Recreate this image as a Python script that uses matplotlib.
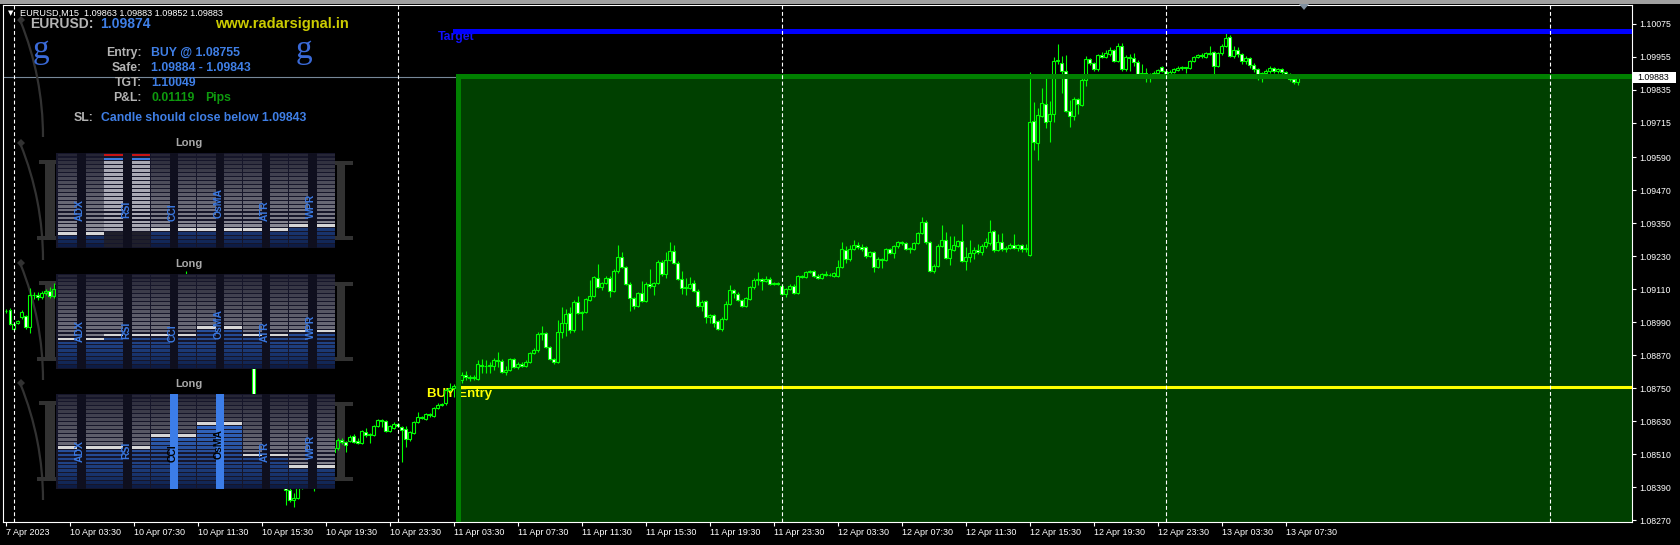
import numpy as np
import matplotlib
matplotlib.use("Agg")
import matplotlib.pyplot as plt
from matplotlib.patches import Rectangle, Polygon, Arc
from matplotlib.transforms import Affine2D

plt.rcParams["font.family"] = ["Liberation Sans", "DejaVu Sans"]

W, H = 1680, 545

# M15 bars, bar 0 = 10 Apr 00:00; prices in points (1e-5)
first_bar = -2
opens = np.array([
    109031, 109035, 108966, 108988, 109010, 109013, 108973, 109090, 109088, 109082,
    109095, 109105, 109085, 109111, 109120, 109112, 109125, 109118, 109130, 109124,
    109136, 109131, 109140, 109134, 109125, 109137, 109145, 109139, 109148, 109142,
    109150, 109144, 109136, 109146, 109152, 109145, 109154, 109149, 109142, 109151,
    109155, 109147, 109153, 109150, 109156, 109152, 109160, 109150, 109136, 109142,
    109122, 109110, 109118, 109095, 109084, 109092, 109066, 109048, 109055, 109018,
    108990, 108962, 108905, 108720, 108700, 108680, 108650, 108620, 108560, 108500,
    108420, 108381, 108344, 108352, 108390, 108420, 108445, 108410, 108400, 108440,
    108470, 108500, 108520, 108533, 108562, 108555, 108560, 108577, 108558, 108551,
    108592, 108582, 108580, 108613, 108635, 108631, 108596, 108607, 108620, 108610,
    108603, 108566, 108588, 108628, 108646, 108639, 108655, 108651, 108679, 108690,
    108697, 108744, 108750, 108760, 108780, 108800, 108790, 108788, 108784, 108836,
    108830, 108833, 108831, 108853, 108850, 108811, 108817, 108857, 108828, 108838,
    108830, 108846, 108879, 108890, 108948, 108951, 108900, 108857, 108846, 108955,
    108988, 109024, 108962, 109064, 109024, 109028, 109073, 109087, 109152, 109119,
    109133, 109152, 109105, 109175, 109229, 109191, 109130, 109079, 109051, 109097,
    109069, 109130, 109121, 109133, 109210, 109166, 109217, 109250, 109207, 109149,
    109115, 109116, 109133, 109105, 109051, 109066, 109011, 109015, 108995, 108966,
    109002, 109057, 109108, 109093, 109071, 109051, 109075, 109118, 109144, 109146,
    109142, 109149, 109130, 109133, 109123, 109093, 109111, 109123, 109097, 109159,
    109155, 109173, 109175, 109160, 109151, 109166, 109164, 109160, 109160, 109191,
    109253, 109220, 109257, 109271, 109263, 109263, 109231, 109246, 109192, 109220,
    109218, 109257, 109243, 109266, 109281, 109279, 109257, 109257, 109279, 109315,
    109356, 109281, 109178, 109196, 109269, 109290, 109225, 109253, 109269, 109286,
    109214, 109227, 109241, 109253, 109245, 109268, 109278, 109323, 109253, 109281,
    109255, 109262, 109271, 109262, 109270, 109258, 109235, 109723, 109641, 109741,
    109783, 109723, 109747, 109940, 109932, 109905, 109760, 109742, 109801, 109780,
    109871, 109947, 109932, 109910, 109962, 109956, 109966, 109980, 109940, 109995,
    109910, 109956, 109950, 109938, 109892, 109896, 109893, 109894, 109895, 109918,
    109905, 109893, 109901, 109909, 109916, 109917, 109914, 109940, 109954, 109962,
    109956, 109968, 109972, 109923, 109968, 109995, 110029, 109959, 109980, 109965,
    109940, 109950, 109925, 109910, 109880, 109895, 109905, 109915, 109905, 109910,
    109900, 109892, 109875, 109863]) / 1e5
highs = np.array([
    109040, 109042, 108986, 108999, 109035, 109017, 109115, 109101, 109101, 109104,
    109112, 109118, 109133, 109125, 109126, 109130, 109132, 109136, 109135, 109140,
    109142, 109146, 109145, 109138, 109140, 109150, 109150, 109152, 109153, 109155,
    109154, 109148, 109150, 109156, 109156, 109158, 109158, 109157, 109155, 109158,
    109159, 109157, 109158, 109159, 109160, 109178, 109164, 109155, 109148, 109146,
    109130, 109125, 109122, 109104, 109098, 109096, 109072, 109060, 109058, 109026,
    109000, 108970, 108910, 108724, 108710, 108688, 108662, 108630, 108572, 108512,
    108428, 108386, 108370, 108395, 108428, 108452, 108450, 108418, 108446, 108478,
    108508, 108530, 108548, 108570, 108570, 108560, 108580, 108583, 108570, 108600,
    108605, 108587, 108618, 108640, 108637, 108635, 108618, 108626, 108624, 108614,
    108613, 108596, 108632, 108663, 108650, 108662, 108660, 108684, 108695, 108698,
    108750, 108768, 108765, 108790, 108808, 108812, 108800, 108800, 108853, 108857,
    108853, 108847, 108862, 108883, 108856, 108831, 108862, 108862, 108845, 108844,
    108852, 108884, 108896, 108954, 108977, 108956, 108904, 108862, 108999, 109047,
    109039, 109047, 109070, 109086, 109033, 109080, 109144, 109160, 109202, 109138,
    109158, 109158, 109184, 109271, 109245, 109196, 109135, 109084, 109102, 109142,
    109135, 109183, 109138, 109216, 109215, 109246, 109281, 109271, 109212, 109177,
    109151, 109155, 109145, 109110, 109070, 109071, 109020, 109020, 109000, 109008,
    109068, 109126, 109113, 109102, 109076, 109084, 109124, 109150, 109174, 109150,
    109159, 109154, 109138, 109136, 109128, 109116, 109128, 109128, 109164, 109162,
    109178, 109182, 109180, 109165, 109170, 109177, 109168, 109174, 109217, 109281,
    109268, 109271, 109290, 109282, 109275, 109268, 109251, 109251, 109226, 109225,
    109262, 109262, 109273, 109286, 109286, 109284, 109264, 109284, 109320, 109374,
    109362, 109286, 109202, 109274, 109344, 109319, 109304, 109304, 109291, 109347,
    109264, 109290, 109264, 109275, 109275, 109296, 109362, 109326, 109311, 109314,
    109268, 109278, 109311, 109276, 109274, 109275, 109902, 109792, 109768, 109841,
    109878, 109795, 109956, 110002, 109960, 109962, 109799, 109811, 109806, 109878,
    109959, 109952, 109938, 109967, 109974, 109980, 109990, 109985, 110006, 110005,
    109962, 109966, 109968, 109943, 109929, 109914, 109897, 109905, 109912, 109923,
    109910, 109906, 109915, 109921, 109922, 109920, 109945, 109958, 109966, 109968,
    109972, 109995, 109976, 109972, 110002, 110041, 110034, 109995, 109990, 109970,
    109958, 109955, 109932, 109915, 109900, 109912, 109922, 109920, 109915, 109915,
    109905, 109898, 109880, 109883]) / 1e5
lows = np.array([
    109024, 108980, 108962, 108984, 109002, 108966, 108951, 109075, 109071, 109075,
    109090, 109080, 109080, 109105, 109106, 109108, 109112, 109114, 109118, 109120,
    109126, 109127, 109128, 109120, 109122, 109132, 109134, 109135, 109137, 109140,
    109138, 109130, 109132, 109141, 109140, 109142, 109144, 109138, 109139, 109146,
    109143, 109144, 109146, 109145, 109148, 109148, 109145, 109130, 109128, 109118,
    109105, 109104, 109090, 109078, 109076, 109060, 109040, 109038, 109010, 108980,
    108950, 108895, 108720, 108690, 108668, 108640, 108612, 108552, 108490, 108410,
    108326, 108337, 108319, 108348, 108385, 108410, 108400, 108376, 108392, 108432,
    108462, 108490, 108512, 108526, 108548, 108519, 108555, 108552, 108547, 108547,
    108574, 108552, 108576, 108608, 108611, 108590, 108590, 108602, 108608, 108483,
    108538, 108560, 108584, 108624, 108638, 108635, 108646, 108646, 108675, 108686,
    108690, 108740, 108720, 108748, 108770, 108780, 108775, 108780, 108780, 108805,
    108805, 108807, 108817, 108829, 108806, 108799, 108812, 108825, 108822, 108826,
    108826, 108841, 108874, 108884, 108926, 108895, 108852, 108840, 108841, 108932,
    108942, 108950, 108956, 109020, 108962, 109024, 109068, 109082, 109114, 109108,
    109128, 109082, 109100, 109170, 109186, 109125, 109030, 109040, 109045, 109064,
    109064, 109116, 109090, 109128, 109160, 109151, 109212, 109202, 109144, 109093,
    109090, 109111, 109100, 109046, 109031, 108987, 108988, 108972, 108961, 108959,
    108997, 109052, 109079, 109066, 109046, 109046, 109070, 109113, 109126, 109108,
    109138, 109126, 109126, 109125, 109088, 109083, 109106, 109092, 109092, 109150,
    109150, 109168, 109155, 109146, 109146, 109160, 109157, 109155, 109156, 109186,
    109206, 109214, 109252, 109258, 109250, 109224, 109226, 109173, 109187, 109189,
    109213, 109238, 109224, 109261, 109272, 109252, 109242, 109252, 109274, 109310,
    109276, 109173, 109168, 109191, 109264, 109220, 109199, 109248, 109264, 109209,
    109182, 109210, 109220, 109240, 109236, 109262, 109272, 109245, 109248, 109250,
    109245, 109255, 109255, 109250, 109245, 109245, 109230, 109617, 109581, 109736,
    109698, 109647, 109720, 109930, 109825, 109756, 109702, 109726, 109748, 109775,
    109850, 109926, 109905, 109905, 109950, 109950, 109960, 109935, 109935, 109905,
    109905, 109905, 109923, 109887, 109888, 109865, 109865, 109890, 109890, 109900,
    109888, 109888, 109896, 109904, 109908, 109896, 109910, 109935, 109950, 109950,
    109952, 109962, 109893, 109918, 109963, 109990, 109954, 109950, 109955, 109930,
    109930, 109915, 109900, 109870, 109865, 109888, 109898, 109895, 109898, 109892,
    109880, 109868, 109855, 109852]) / 1e5
closes = np.array([
    109033, 108984, 108984, 108995, 109028, 108973, 109090, 109088, 109082, 109095,
    109105, 109085, 109111, 109120, 109112, 109125, 109118, 109130, 109124, 109136,
    109131, 109140, 109134, 109125, 109137, 109145, 109139, 109148, 109142, 109150,
    109144, 109136, 109146, 109152, 109145, 109154, 109149, 109142, 109151, 109155,
    109147, 109153, 109150, 109156, 109152, 109160, 109150, 109136, 109142, 109122,
    109110, 109118, 109095, 109084, 109092, 109066, 109048, 109055, 109018, 108990,
    108962, 108905, 108725, 108700, 108680, 108650, 108620, 108560, 108500, 108420,
    108381, 108344, 108352, 108390, 108420, 108445, 108410, 108400, 108440, 108470,
    108500, 108520, 108533, 108562, 108555, 108545, 108574, 108556, 108551, 108595,
    108580, 108584, 108614, 108635, 108631, 108596, 108613, 108620, 108614, 108599,
    108566, 108591, 108628, 108646, 108643, 108657, 108652, 108679, 108690, 108693,
    108744, 108751, 108760, 108780, 108800, 108790, 108788, 108792, 108839, 108830,
    108833, 108834, 108853, 108851, 108811, 108817, 108857, 108829, 108839, 108832,
    108846, 108879, 108890, 108948, 108951, 108900, 108857, 108846, 108955, 108988,
    109020, 108962, 109064, 109024, 109028, 109075, 109087, 109155, 109119, 109133,
    109152, 109105, 109177, 109229, 109191, 109130, 109079, 109051, 109097, 109069,
    109130, 109121, 109133, 109210, 109166, 109217, 109250, 109207, 109149, 109115,
    109119, 109130, 109105, 109051, 109064, 109011, 109015, 108989, 108966, 109002,
    109057, 109108, 109096, 109071, 109051, 109079, 109118, 109144, 109146, 109142,
    109149, 109130, 109133, 109129, 109093, 109111, 109123, 109097, 109159, 109156,
    109173, 109175, 109160, 109151, 109166, 109164, 109162, 109168, 109191, 109257,
    109220, 109257, 109271, 109263, 109256, 109231, 109246, 109192, 109220, 109218,
    109257, 109243, 109268, 109281, 109279, 109257, 109259, 109279, 109315, 109356,
    109281, 109178, 109196, 109269, 109290, 109225, 109257, 109271, 109286, 109214,
    109227, 109241, 109253, 109245, 109268, 109282, 109318, 109253, 109281, 109255,
    109262, 109271, 109262, 109270, 109258, 109262, 109720, 109645, 109744, 109787,
    109720, 109747, 109940, 109944, 109905, 109760, 109742, 109801, 109783, 109871,
    109947, 109932, 109910, 109962, 109956, 109968, 109980, 109940, 109995, 109910,
    109956, 109950, 109938, 109892, 109896, 109893, 109894, 109897, 109908, 109905,
    109893, 109901, 109911, 109916, 109917, 109914, 109940, 109954, 109962, 109959,
    109968, 109966, 109923, 109968, 109995, 110023, 109959, 109980, 109965, 109940,
    109950, 109925, 109910, 109880, 109895, 109905, 109915, 109905, 109910, 109900,
    109892, 109875, 109863, 109883]) / 1e5

y_ticks = [1.10075, 1.09955, 1.09835, 1.09715, 1.09590, 1.09470, 1.09350, 1.09230,
           1.09110, 1.08990, 1.08870, 1.08750, 1.08630, 1.08510, 1.08390, 1.08270]
x_tick_bars = [-2, 14, 30, 46, 62, 78, 94, 110, 126, 142, 158, 174, 190, 206, 222,
               238, 254, 270, 286, 302, 318]
x_tick_labels = ["7 Apr 2023", "10 Apr 03:30", "10 Apr 07:30", "10 Apr 11:30",
                 "10 Apr 15:30", "10 Apr 19:30", "10 Apr 23:30", "11 Apr 03:30",
                 "11 Apr 07:30", "11 Apr 11:30", "11 Apr 15:30", "11 Apr 19:30",
                 "11 Apr 23:30", "12 Apr 03:30", "12 Apr 07:30", "12 Apr 11:30",
                 "12 Apr 15:30", "12 Apr 19:30", "12 Apr 23:30", "13 Apr 03:30",
                 "13 Apr 07:30"]
day_breaks = [0, 96, 192, 288, 384]

entry_bar = 111
entry_price = 1.08755
target_price = 1.10049
safe_high = 1.09884
safe_low = 1.09843
bid_price = 1.09883
last_bar_ohlc = [1.09863, 1.09883, 1.09852, 1.09883]
shown_price = 1.09874
pnl = 0.01119

# indicator strength panels: lit level (0..23) for each of the 12 columns,
# 24 = overbought display
indicators = ["ADX", "RSI", "CCI", "OsMA", "ATR", "WPR"]
panel1_levels = [3, 3, 24, 24, 4, 4, 4, 4, 4, 4, 5, 5]
panel2_levels = [7, 7, 8, 8, 8, 8, 10, 10, 8, 8, 9, 9]
panel3_levels = [10, 10, 10, 10, 13, 13, 16, 16, 8, 8, 5, 5]
panel3_flagged = ["CCI", "OsMA"]

LIME = "#00ff00"
GRAY_TXT = "#b4b4b4"
BLUE_TXT = "#3f7fe6"
DECO = "#323232"

fig = plt.figure(figsize=(W / 100, H / 100), dpi=100, facecolor="black")
ax = fig.add_axes([3 / W, 1 - 522 / H, 1629 / W, 517 / H])
ax.set_facecolor("black")
ax.set_xlim(-2.65, 404.6)
ax.set_ylim(1.08264, 1.10144)

# screen pixel coordinates, y pointing down
px = Affine2D().scale(1, -1).translate(0, H)


def ptext(x, y, s, **kw):
    kw.setdefault("va", "center")
    ax.text(x, y, s, transform=px, clip_on=False, **kw)


def prect(x, y, w, h, color, z, clip=True):
    ax.add_patch(Rectangle((x, y), w, h, facecolor=color, edgecolor="none",
                           transform=px, zorder=z, clip_on=clip))


# window frame
prect(0, 0, W, 3.5, "#a0a0a0", 30, clip=False)

# trade box
ax.add_patch(Rectangle((entry_bar, 1.0800), 400, safe_high - 1.0800,
                       facecolor="#004000", edgecolor="none", zorder=1))
ax.axhline(bid_price, color="#778899", lw=0.8, zorder=1.2)

# decorative background strokes around the panels
for top in [153, 274, 394]:
    prect(45, top + 8, 10, 79, DECO, 2)
    prect(39, top + 7, 20, 4, DECO, 2)
    prect(37, top + 83, 24, 4, DECO, 2)
    prect(337, top + 8, 8, 79, DECO, 2)
    prect(333, top + 8, 20, 4, DECO, 2)
    prect(331, top + 83, 22, 4, DECO, 2)
for yc in [137, 260, 380, 500]:
    ax.add_patch(Arc((-266, yc), 618, 618, theta1=-22, theta2=0, color=DECO,
                     lw=1.6, transform=px, zorder=2))
    ax.add_patch(Polygon([(17, yc - 117), (21, yc - 121), (25, yc - 117), (21, yc - 113)],
                         closed=True, facecolor=DECO, transform=px, zorder=2))

# candles
x = np.arange(len(opens)) + first_bar
top = np.maximum(opens, closes)
bot = np.minimum(opens, closes)
up = closes >= opens
ax.vlines(x, top, highs, color=LIME, lw=0.8, zorder=3)
ax.vlines(x, lows, bot, color=LIME, lw=0.8, zorder=3)
ax.bar(x[up], (top - bot)[up], bottom=bot[up], width=0.55, facecolor="none",
       edgecolor=LIME, lw=0.8, zorder=3.1)
ax.bar(x[~up], (top - bot)[~up], bottom=bot[~up], width=0.55, facecolor="white",
       edgecolor=LIME, lw=0.8, zorder=3.1)

# levels
ax.plot([entry_bar, 420], [entry_price] * 2, color="#ffff00", lw=2.2, zorder=3.4)
ax.plot([entry_bar - 0.6, 420], [target_price] * 2, color="#0000ff", lw=3.6, zorder=3.4)
ax.plot([entry_bar, entry_bar, 420], [1.0800, safe_high, safe_high], color="#008000",
        lw=3.6, zorder=3.5, solid_joinstyle="miter")
for d in day_breaks:
    ax.axvline(d, color="white", lw=0.8, ls=(0, (3.5, 2.2)), zorder=5)

ptext(438, 37, "Target", color="#1010ff", fontsize=8.8, fontweight="bold")
ptext(427, 394, "BUY Entry", color="#ffff00", fontsize=9.5, fontweight="bold")

# axes styling
for s in ax.spines.values():
    s.set_color("white")
    s.set_linewidth(0.8)
ax.yaxis.tick_right()
ax.set_yticks(y_ticks)
ax.set_yticklabels([f"{v:.5f}" for v in y_ticks])
ax.tick_params(axis="y", colors="white", labelsize=6.3, length=3, width=0.8, pad=2)
ax.set_xticks(x_tick_bars)
ax.set_xticklabels(x_tick_labels, ha="left")
ax.tick_params(axis="x", colors="white", labelsize=6.5, length=3, width=0.8, pad=1.5)
prect(1633, 72, 43, 10.5, "white", 20, clip=False)
ptext(1637, 77.3, f"{bid_price:.5f}", color="black", fontsize=6.3, zorder=21)

# header
ptext(8, 13, "\u25BC", color="white", fontsize=5, family=["DejaVu Sans"])
ptext(20, 13, "EURUSD,M15  " + " ".join(f"{v:.5f}" for v in last_bar_ohlc),
      color="white", fontsize=6.6)
ax.add_patch(Polygon([(1299, 4), (1309, 4), (1304, 10)], closed=True,
                     facecolor="#8090a0", transform=px, clip_on=False, zorder=20))

# info block
ptext(30, 24, "EURUSD:", color=GRAY_TXT, fontsize=10, fontweight="bold")
ptext(100, 24, f"{shown_price:.5f}", color=BLUE_TXT, fontsize=10, fontweight="bold")
ptext(215, 24, "www.radarsignal.in", color="#cccc00", fontsize=10.5, fontweight="bold")
for gx in [40.5, 303.5]:
    ptext(gx, 58, "g", color="#3a6ad8", fontsize=24, ha="center", va="baseline",
          family=["Liberation Serif", "DejaVu Serif"])
rows = [("Entry:", f"BUY @ {entry_price:.5f}", BLUE_TXT),
        ("Safe:", f"{safe_high:.5f} - {safe_low:.5f}", BLUE_TXT),
        ("TGT:", f"{target_price:.5f}", BLUE_TXT),
        ("P&L:", f"{pnl:.5f}", "#0e9a0e")]
for k, (lab, val, col) in enumerate(rows):
    yy = 53 + 15 * k
    ptext(142, yy, lab, color=GRAY_TXT, fontsize=8.8, fontweight="bold", ha="right")
    ptext(151, yy, val, color=col, fontsize=8.8, fontweight="bold")
ptext(205, 98, "Pips", color="#0e9a0e", fontsize=8.8, fontweight="bold")
ptext(94, 118, "SL:", color=GRAY_TXT, fontsize=8.8, fontweight="bold", ha="right")
ptext(101, 118, f"Candle should close below {safe_low:.5f}", color=BLUE_TXT,
      fontsize=8.8, fontweight="bold")


# indicator panels
def lerp(a, b, t):
    return tuple(a[i] + (b[i] - a[i]) * t for i in range(3))


GRAY_LO, GRAY_HI = (0.64, 0.64, 0.68), (0.15, 0.15, 0.21)
BLUE_LO, BLUE_HI = (0.05, 0.11, 0.27), (0.24, 0.49, 0.91)


def draw_panel(top, levels, flagged):
    ph = 94.5
    pitch = ph / 24
    prect(56, top, 279, ph, "#16162a", 10)
    ptext(189, top - 10, "Long", color="#a8a8a8", fontsize=8, fontweight="bold",
          ha="center", zorder=11)
    for k, name in enumerate(indicators):
        s = 58.3 + 46.1 * k
        prect(s + 19, top, 8.7, ph, "#3c7de8" if name in flagged else "#0f0f1e", 10.2)
        for c, (cx, cw) in enumerate([(s, 19), (s + 27.7, 18)]):
            lvl = levels[2 * k + c]
            for j in range(24):
                t = j / 23
                if lvl >= 24:
                    if j == 23:
                        col = "#c81414"
                    elif j == 22:
                        col = "#3a7ae0"
                    elif j >= 4:
                        col = (0.66, 0.66, 0.70)
                    else:
                        col = (0.12, 0.12, 0.17)
                elif j == lvl:
                    col = "#d6d6d6"
                elif j > lvl:
                    col = lerp(GRAY_LO, GRAY_HI, t)
                else:
                    col = lerp(BLUE_LO, BLUE_HI, t ** 0.7)
                yb = top + ph - j * pitch
                prect(cx, yb - pitch + 0.6, cw, pitch - 1.2, col, 10.1)
        ptext(s + 21.8, top + (68 if k % 2 == 0 else 65), name,
              color="black" if name in flagged else "#3a78e0", fontsize=7.5,
              fontweight="bold", rotation=90, ha="center", va="bottom", zorder=11)


draw_panel(153, panel1_levels, [])
draw_panel(274, panel2_levels, [])
draw_panel(394, panel3_levels, panel3_flagged)

fig.savefig("out.png", dpi=100, facecolor="black")
